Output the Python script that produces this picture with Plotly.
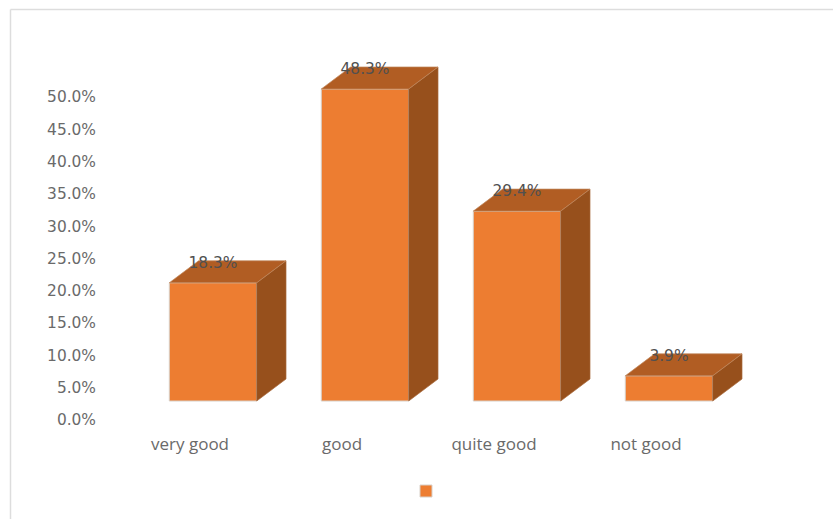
import plotly.graph_objects as go

categories = ["very good", "good", "quite good", "not good"]
values = [18.3, 48.3, 29.4, 3.9]
value_labels = ["18.3%", "48.3%", "29.4%", "3.9%"]
tick_values = [0, 5, 10, 15, 20, 25, 30, 35, 40, 45, 50]
tick_labels = ["0.0%", "5.0%", "10.0%", "15.0%", "20.0%", "25.0%", "30.0%", "35.0%", "40.0%", "45.0%", "50.0%"]

W, H = 833, 519
ML, MB = 97, 87
PX_X = 152.0
PX_Y = 6.46
X0 = 213.0
Y0 = 401.0
BAR_W = 87.4 / PX_X
DX = 29.3 / PX_X
DY = 22.0 / PX_Y
LABEL_UP = 18.5 / PX_Y
NUM_FONT = "DejaVu Sans"
CAT_FONT = "Open Sans"

plot_bottom = H - MB
xr = [(ML - X0) / PX_X, (W - X0) / PX_X]
yr = [-(plot_bottom - Y0) / PX_Y, Y0 / PX_Y]
xr2 = [(ML - X0 + 23) / PX_X, (W - X0 + 23) / PX_X]
yr2 = [-(plot_bottom - (Y0 + 19)) / PX_Y, (Y0 + 19) / PX_Y]
idx = list(range(len(values)))

fig = go.Figure()
for i, v in zip(idx, values):
    l, r = i - BAR_W / 2, i + BAR_W / 2
    fig.add_trace(go.Scatter(x=[r, r + DX, r + DX, r, r], y=[0, DY, v + DY, v, 0], mode="lines", fill="toself",
                             fillcolor="#97501C", line=dict(color="#A8673A", width=0.7), hoverinfo="skip", showlegend=False))
    fig.add_trace(go.Scatter(x=[l, l + DX, r + DX, r, l], y=[v, v + DY, v + DY, v, v], mode="lines", fill="toself",
                             fillcolor="#B15D23", line=dict(color="#C08A60", width=0.7), hoverinfo="skip", showlegend=False))
fig.add_trace(go.Bar(x=idx, y=values, width=BAR_W, name=" ", showlegend=True,
                     marker=dict(color="#ED7D31", line=dict(color="#D8D0C8", width=1))))
fig.add_trace(go.Scatter(x=idx, y=[v + LABEL_UP for v in values], text=value_labels, mode="text",
                         textposition="middle center", textfont=dict(family=NUM_FONT, size=15.4, color="#505050"),
                         hoverinfo="skip", showlegend=False))
# Invisible carrier for the shifted axes used by the tick labels
fig.add_trace(go.Scatter(x=idx, y=values, xaxis="x2", yaxis="y2", mode="markers", marker=dict(opacity=0),
                         hoverinfo="skip", showlegend=False))

fig.update_layout(
    width=W, height=H, margin=dict(l=ML, r=0, t=0, b=MB),
    paper_bgcolor="white", plot_bgcolor="rgba(0,0,0,0)",
    barmode="overlay",
    font=dict(family=NUM_FONT, color="#595959", size=15),
    xaxis=dict(range=xr, showgrid=False, zeroline=False, showticklabels=False, ticks=""),
    yaxis=dict(range=yr, showgrid=False, zeroline=False, showticklabels=False, ticks=""),
    xaxis2=dict(range=xr2, overlaying="x", side="bottom", anchor="y2", tickmode="array", tickvals=idx, ticktext=categories,
                showgrid=False, zeroline=False, ticks="", showline=False, tickfont=dict(family=CAT_FONT, size=17, color="#6a6a6a")),
    yaxis2=dict(range=yr2, overlaying="y", side="left", anchor="x2", tickmode="array", tickvals=tick_values, ticktext=tick_labels,
                showgrid=False, zeroline=False, ticks="", showline=False, tickfont=dict(family=NUM_FONT, size=15.4, color="#6a6a6a")),
    legend=dict(x=(406 - ML) / (W - ML), y=-(491 - plot_bottom) / plot_bottom, xanchor="left", yanchor="middle",
                bgcolor="rgba(0,0,0,0)", font=dict(size=10)),
    shapes=[
        dict(type="line", xref="paper", yref="paper", x0=(10.5 - ML) / (W - ML), x1=(10.5 - ML) / (W - ML),
             y0=-(H - plot_bottom) / plot_bottom, y1=(plot_bottom - 9.5) / plot_bottom, line=dict(color="#DDDDDD", width=1.5)),
        dict(type="line", xref="paper", yref="paper", x0=(10.5 - ML) / (W - ML), x1=1,
             y0=(plot_bottom - 9.5) / plot_bottom, y1=(plot_bottom - 9.5) / plot_bottom, line=dict(color="#DDDDDD", width=1.5)),
    ],
)
fig.write_html("out.html", config={"displayModeBar": False}, post_script="document.body.style.margin='0';")
